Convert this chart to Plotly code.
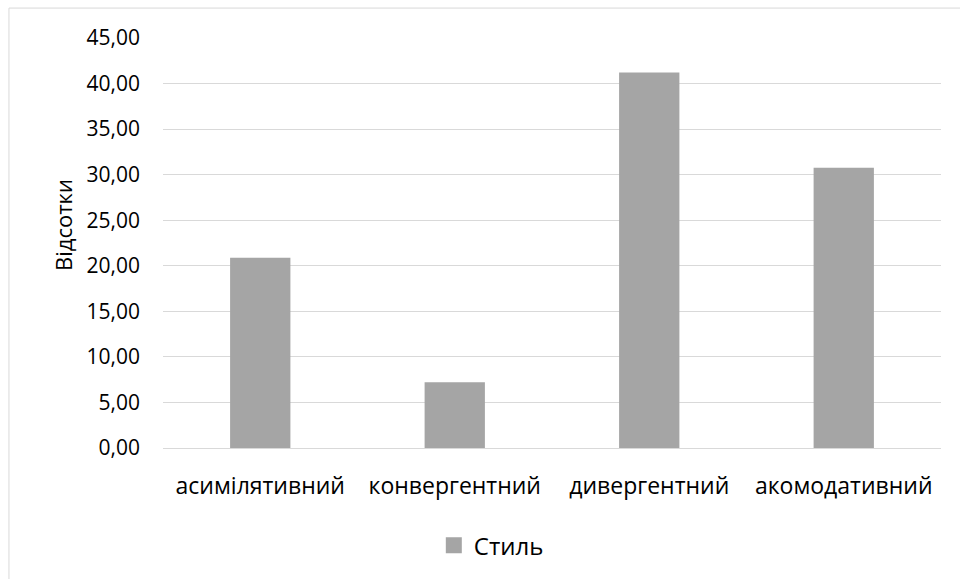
import plotly.graph_objects as go

# Learning-style distribution, percent
categories = ["асимілятивний", "конвергентний", "дивергентний", "акомодативний"]
values = [20.88, 7.21, 41.20, 30.76]
series_name = "Стиль"
axis_title = "Відсотки"
y_ticks = [0, 5, 10, 15, 20, 25, 30, 35, 40, 45]

FONT = "Open Sans"
GRID = "#d9d9d9"
BAR = "#a5a5a5"

fig = go.Figure()
fig.add_trace(
    go.Bar(
        x=categories,
        y=values,
        name=series_name,
        marker=dict(color=BAR, line=dict(width=0)),
        width=0.31,
        showlegend=False,
    )
)
# legend entry with a larger square swatch
fig.add_trace(
    go.Scatter(
        x=[None],
        y=[None],
        mode="markers",
        name=series_name,
        marker=dict(symbol="square", size=16, color=BAR),
        showlegend=True,
    )
)

fig.update_layout(
    width=960,
    height=579,
    margin=dict(l=163, r=19, t=38, b=130),
    paper_bgcolor="white",
    plot_bgcolor="white",
    separators=", ",
    font=dict(family=FONT, size=21, color="#000000"),
    showlegend=True,
    legend=dict(
        orientation="h",
        x=0.422,
        xanchor="center",
        y=-0.235,
        yanchor="middle",
        font=dict(family=FONT, size=24, color="#000000"),
        itemwidth=30,
    ),
    xaxis=dict(
        showgrid=False,
        showline=True,
        linecolor=GRID,
        linewidth=1,
        ticks="",
        tickfont=dict(family=FONT, size=23, color="#000000"),
        ticklabelstandoff=17,
    ),
    yaxis=dict(
        range=[0, 45],
        tickvals=y_ticks,
        tickformat=".2f",
        showgrid=True,
        gridcolor=GRID,
        gridwidth=1,
        zeroline=False,
        showline=False,
        ticks="",
        tickfont=dict(family=FONT, size=21, color="#000000"),
        ticklabelstandoff=22,
    ),
    annotations=[
        dict(
            text=axis_title,
            xref="paper",
            yref="paper",
            x=-0.1285,
            y=0.544,
            xanchor="center",
            yanchor="middle",
            textangle=-90,
            showarrow=False,
            font=dict(family=FONT, size=22, color="#000000"),
        )
    ],
    shapes=[
        dict(
            type="rect",
            xref="paper",
            yref="paper",
            x0=-0.198,
            x1=1.2,
            y0=-0.5,
            y1=1.073,
            line=dict(color=GRID, width=1),
            fillcolor="rgba(0,0,0,0)",
            layer="below",
        )
    ],
)

fig.write_html("out.html")
